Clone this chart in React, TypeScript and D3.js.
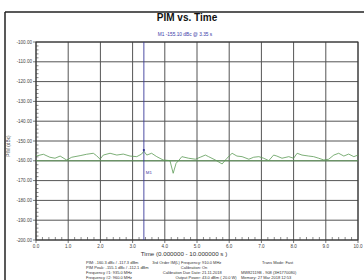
import React from 'react';
import * as d3 from 'd3';

// trace (time in s, PIM in dBc)
const times = [
  0, 0.05, 0.23, 0.43, 0.59, 0.75, 0.95, 1.11, 1.37, 1.57, 1.78, 1.88, 1.99, 2.09, 2.3, 2.51, 2.71, 2.92,
  3.13, 3.28, 3.35, 3.44, 3.59, 3.75, 3.95, 4.16, 4.26, 4.35, 4.47, 4.53, 4.74, 4.95, 5.1, 5.26, 5.36,
  5.57, 5.78, 5.93, 6.09, 6.24, 6.4, 6.61, 6.76, 6.92, 7.07, 7.23, 7.38, 7.48, 7.64, 7.85, 8.0, 8.11,
  8.26, 8.47, 8.62, 8.78, 8.94, 9.09, 9.25, 9.4, 9.56, 9.71, 9.87, 10.0,
];
const pimValues = [
  -157.2, -157.4, -156.7, -158.2, -158.7, -157.6, -159.6, -158.2, -157.4, -156.7, -156.2, -157.4, -159.2,
  -157.1, -156.2, -157.1, -156.6, -157.6, -157.9, -156.6, -155.1, -157.1, -156.2, -157.9, -159.6, -159.9,
  -166.3, -161.3, -159.1, -157.9, -158.7, -159.2, -158.2, -157.1, -157.9, -159.6, -161.6, -158.7, -156.2,
  -157.6, -157.9, -159.2, -158.2, -157.9, -158.7, -159.9, -157.1, -157.6, -158.7, -157.9, -158.7, -156.2,
  -157.1, -157.6, -157.9, -158.7, -159.6, -159.2, -157.1, -156.2, -157.6, -156.6, -157.9, -157.1,
];
const limitLine = -160;
const markerTime = 3.35;
const markerValue = -155.1;

const yTicks = d3.range(-200, -99, 10);
const xTicks = d3.range(0, 10.01, 1);

const infoRows = [
  ['PIM: -160.3 dBc  /  -117.3 dBm', '3rd Order IM(L) Frequency: ', '910.0 MHz', 'Trans Mode: Fast'],
  ['PIM Peak: -155.1 dBc  /  -112.1 dBm', 'Calibration: ', 'On', ''],
  ['Frequency #1: 935.0 MHz', 'Calibration Due Date: ', '21.11.2018', 'MW82119B - 908 (3H1770080)'],
  ['Frequency #2: 960.0 MHz', 'Output Power: ', '43.0 dBm  ( 20.0 W)', 'Memory: 27 Mar 2018 12:53'],
];

const W = 364;
const H = 280;
const margin = { top: 42, right: 6, bottom: 40, left: 36 };

const App: React.FC = () => {
  const x = d3.scaleLinear().domain([0, 10]).range([margin.left, W - margin.right]);
  const y = d3.scaleLinear().domain([-200, -100]).range([H - margin.bottom, margin.top]);

  const line = d3
    .line<number>()
    .x((_, i) => x(times[i]))
    .y((d) => y(d));

  const minorY = d3.range(-200, -99, 2).filter((v) => v % 10 !== 0);
  const minorX = d3.range(0, 10.01, 0.2).filter((v) => Math.abs(v - Math.round(v)) > 0.01);

  const font = 'Liberation Sans, Arial, sans-serif';

  return (
    <svg width={W} height={H} style={{ position: 'absolute', left: 0, top: 0, background: '#fff' }} fontFamily={font}>
      {/* outer frame */}
      <line x1={5} x2={W} y1={12} y2={12} stroke="#222" strokeWidth={1.5} />
      <line x1={5} x2={5} y1={12} y2={H} stroke="#222" strokeWidth={1.5} />

      <text x={187} y={21} textAnchor="middle" fontSize={10} fontWeight="bold" fill="#111">
        PIM vs. Time
      </text>
      <text x={185} y={35.5} textAnchor="middle" fontSize={4.8} fill="#3a3aa8">
        M1  -155.10  dBc  @ 3.35 s
      </text>

      {/* grid */}
      {yTicks.map((t) => (
        <g key={'gy' + t}>
          <line x1={x(0)} x2={x(10)} y1={y(t)} y2={y(t)} stroke="#555" strokeWidth={1} />
          <line x1={x(0) - 3} x2={x(0)} y1={y(t)} y2={y(t)} stroke="#555" strokeWidth={0.8} />
          <text x={x(0) - 4} y={y(t) + 1.6} textAnchor="end" fontSize={4.6} fill="#444">
            {t.toFixed(2)}
          </text>
        </g>
      ))}
      {xTicks.map((t) => (
        <g key={'gx' + t}>
          <line x1={x(t)} x2={x(t)} y1={y(-100)} y2={y(-200)} stroke="#555" strokeWidth={1} />
          <line x1={x(t)} x2={x(t)} y1={y(-200)} y2={y(-200) + 3} stroke="#555" strokeWidth={0.8} />
          <text x={x(t)} y={y(-200) + 7.5} textAnchor="middle" fontSize={4.6} fill="#444">
            {t.toFixed(1)}
          </text>
        </g>
      ))}
      {minorY.map((t) => (
        <line key={'my' + t} x1={x(0)} x2={x(0) + 2.5} y1={y(t)} y2={y(t)} stroke="#555" strokeWidth={0.7} />
      ))}
      {minorX.map((t) => (
        <line key={'mx' + t} x1={x(t)} x2={x(t)} y1={y(-200)} y2={y(-200) - 3} stroke="#555" strokeWidth={0.7} />
      ))}
      <rect
        x={x(0)}
        y={y(-100)}
        width={x(10) - x(0)}
        height={y(-200) - y(-100)}
        fill="none"
        stroke="#333"
        strokeWidth={1}
      />

      {/* limit line and trace */}
      <line x1={x(0)} x2={x(10)} y1={y(limitLine)} y2={y(limitLine)} stroke="#5c9a56" strokeWidth={0.9} />
      <path d={line(pimValues) ?? ''} fill="none" stroke="#5c9a56" strokeWidth={0.8} />

      {/* marker */}
      <line x1={x(markerTime)} x2={x(markerTime)} y1={y(-100)} y2={y(-200)} stroke="#3a3a9a" strokeWidth={0.9} />
      <circle cx={x(markerTime)} cy={y(markerValue) - 1} r={1.1} fill="#2a2a8a" />
      <text x={x(markerTime) + 2} y={y(-166) + 1} fontSize={4.4} fill="#3a3aa8">
        M1
      </text>

      {/* axis titles */}
      <text
        transform={`translate(10,${(y(-100) + y(-200)) / 2 + 5}) rotate(-90)`}
        textAnchor="middle"
        fontSize={4.8}
        fill="#444"
      >
        PIM (dBc)
      </text>
      <text x={184} y={255.5} textAnchor="middle" fontSize={6.2} fill="#333">
        Time (0.000000 - 10.000000 s )
      </text>

      {/* info block */}
      {infoRows.map((r, i) => (
        <g key={'info' + i} fontSize={4} fill="#333">
          <text x={86} y={264 + i * 5}>{r[0]}</text>
          <text x={201} y={264 + i * 5} textAnchor="end">{r[1]}</text>
          <text x={202} y={264 + i * 5}>{r[2]}</text>
          <text x={i < 2 ? 262 : 241} y={264 + i * 5}>{r[3]}</text>
        </g>
      ))}
    </svg>
  );
};

export default App;
